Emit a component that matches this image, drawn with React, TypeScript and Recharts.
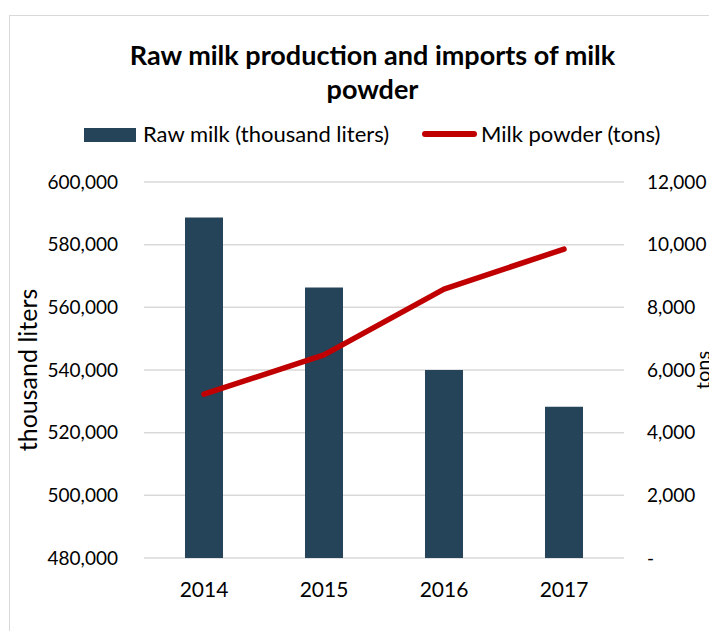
import React from "react";
import {
  ComposedChart,
  Bar,
  Line,
  XAxis,
  YAxis,
  CartesianGrid,
} from "recharts";

const years = ["2014", "2015", "2016", "2017"];
const rawMilk = [588700, 566300, 540000, 528300];
const milkPowder = [5230, 6480, 8580, 9860];
const leftTicks = [480000, 500000, 520000, 540000, 560000, 580000, 600000];
const rightTicks = [0, 2000, 4000, 6000, 8000, 10000, 12000];

const data = years.map((year, i) => ({
  year,
  rawMilk: rawMilk[i],
  milkPowder: milkPowder[i],
}));

const FONT = "Lato, 'Open Sans', sans-serif";
const BAR_COLOR = "#264459";
const LINE_COLOR = "#C00000";

const fmt = (v: number) => (v === 0 ? "-" : v.toLocaleString("en-US"));

const legendText: React.CSSProperties = {
  position: "absolute",
  top: 123,
  fontFamily: FONT,
  fontSize: 22,
  lineHeight: "22px",
  color: "#000",
  whiteSpace: "nowrap",
};

const App: React.FC = () => {
  return (
    <div
      style={{
        position: "relative",
        width: 717,
        height: 639,
        margin: -8,
        overflow: "hidden",
        background: "#fff",
      }}
    >
      {/* chart frame */}
      <div
        style={{
          position: "absolute",
          left: 9,
          top: 15,
          width: 720,
          height: 620,
          border: "1px solid #d9d9d9",
        }}
      />
      <div style={{ position: "absolute", left: 0, top: 0 }}>
        <ComposedChart
          width={717}
          height={639}
          data={data}
          margin={{ top: 182, right: 0, bottom: 51, left: 44 }}
        >
          <CartesianGrid
            vertical={false}
            stroke="#d9d9d9"
            strokeWidth={1.5}
            yAxisId="left"
          />
          <XAxis
            dataKey="year"
            axisLine={false}
            tickLine={false}
            tickSize={0}
            tickMargin={24}
            tick={{ fill: "#000", fontSize: 21, fontFamily: FONT }}
          />
          <YAxis
            yAxisId="left"
            width={100}
            domain={[480000, 600000]}
            ticks={leftTicks}
            tickFormatter={fmt}
            axisLine={false}
            tickLine={false}
            tickSize={0}
            tickMargin={26}
            tick={{ fill: "#000", fontSize: 19, fontFamily: FONT }}
            label={{
              value: "thousand liters",
              angle: -90,
              position: "insideLeft",
              offset: -16,
              style: {
                textAnchor: "middle",
                fill: "#000",
                fontSize: 25,
                fontFamily: FONT,
              },
            }}
          />
          <YAxis
            yAxisId="right"
            orientation="right"
            width={93}
            domain={[0, 12000]}
            ticks={rightTicks}
            tickFormatter={fmt}
            axisLine={false}
            tickLine={false}
            tickSize={0}
            tickMargin={23}
            tick={{ fill: "#000", fontSize: 19, fontFamily: FONT, textAnchor: "start" }}
            label={{
              value: "tons",
              angle: -90,
              position: "insideRight",
              offset: 14,
              style: {
                textAnchor: "middle",
                fill: "#000",
                fontSize: 20,
                fontFamily: FONT,
              },
            }}
          />
          <Bar
            yAxisId="left"
            dataKey="rawMilk"
            name="Raw milk (thousand liters)"
            fill={BAR_COLOR}
            barSize={38}
            isAnimationActive={false}
          />
          <Line
            yAxisId="right"
            type="linear"
            dataKey="milkPowder"
            name="Milk powder (tons)"
            stroke={LINE_COLOR}
            strokeWidth={5.5}
            strokeLinecap="round"
            strokeLinejoin="round"
            dot={false}
            activeDot={false}
            isAnimationActive={false}
          />
        </ComposedChart>
      </div>
      {/* title */}
      <div
        style={{
          position: "absolute",
          left: 0,
          top: 38,
          width: 745,
          textAlign: "center",
          fontFamily: FONT,
          fontWeight: 700,
          fontSize: 27,
          lineHeight: "34px",
          color: "#000",
        }}
      >
        Raw milk production and imports of milk
        <br />
        powder
      </div>
      {/* legend */}
      <div
        style={{
          position: "absolute",
          left: 84,
          top: 128,
          width: 52,
          height: 14,
          background: BAR_COLOR,
        }}
      />
      <div style={{ ...legendText, left: 143 }}>Raw milk (thousand liters)</div>
      <div
        style={{
          position: "absolute",
          left: 422,
          top: 131,
          width: 55,
          height: 6,
          borderRadius: 3,
          background: LINE_COLOR,
        }}
      />
      <div style={{ ...legendText, left: 481 }}>Milk powder (tons)</div>
    </div>
  );
};

export default App;
